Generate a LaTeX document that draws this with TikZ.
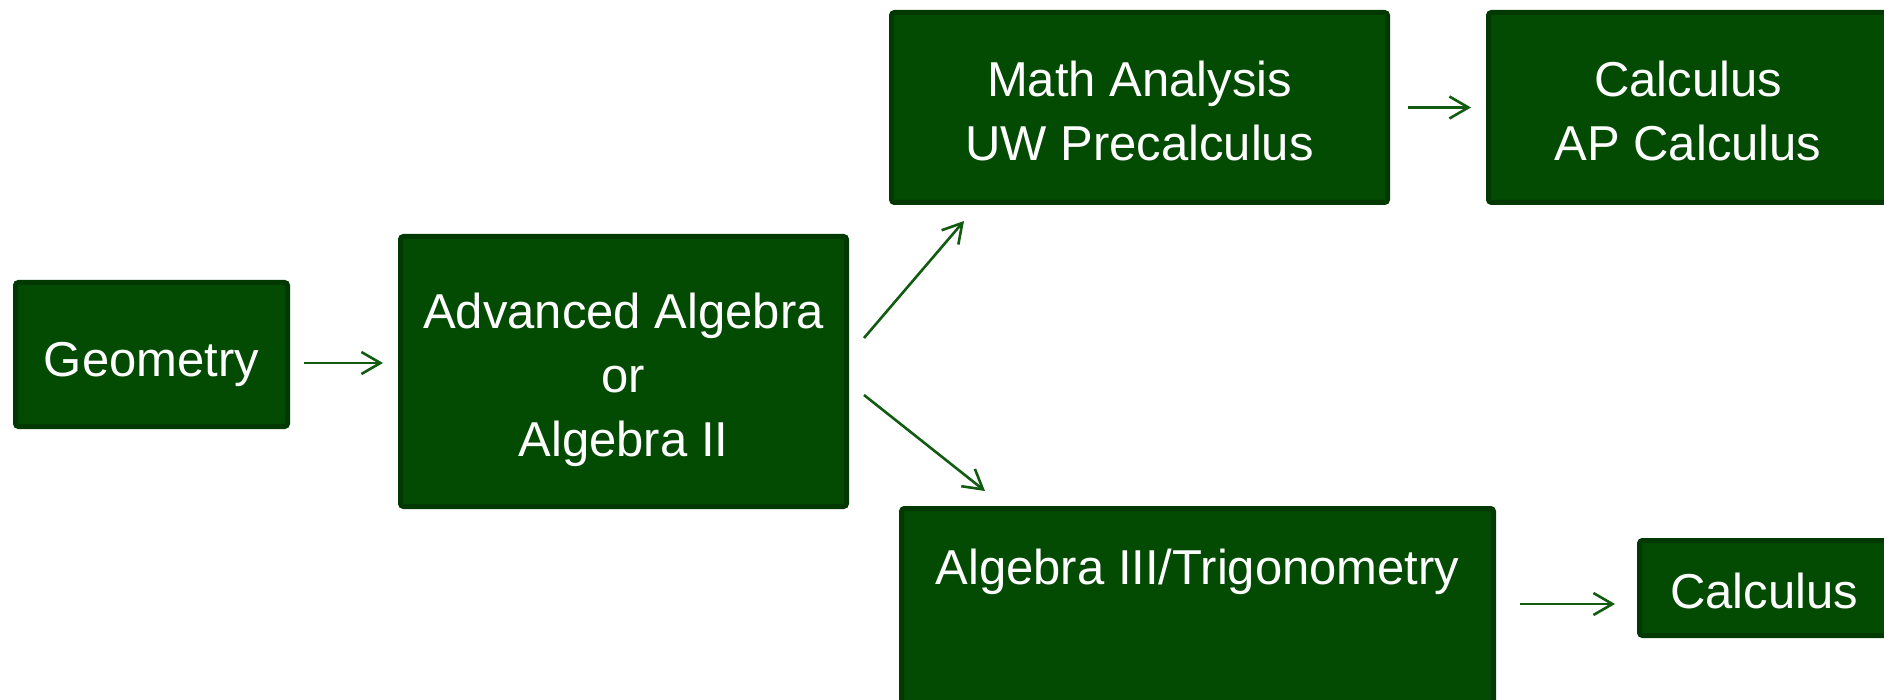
\documentclass[tikz,border=0pt]{standalone}
\usepackage{fontspec}
\setmainfont{Liberation Sans}
\usetikzlibrary{arrows.meta}
\definecolor{boxfill}{RGB}{3,74,3}
\definecolor{boxline}{RGB}{2,56,2}
\definecolor{arrowgreen}{RGB}{18,92,18}
\newcommand\dnby[2]{\raisebox{-#1}[\height][\depth]{\begin{tabular}{@{}c@{}}#2\end{tabular}}}
\tikzset{
  box/.style={draw=boxline, fill=boxfill, line width=2.5pt, rounded corners=1.5pt,
    text=white, align=center, inner sep=0pt,
    font=\fontsize{24.5}{32}\selectfont},
  txt/.style={text=white, align=center, inner sep=0pt,
    font=\fontsize{24.5}{32}\selectfont},
  arr/.style={draw=arrowgreen, line width=1.3pt,
    -{Straight Barb[length=9.5pt,width=11pt]}}
}
\begin{document}
\begin{tikzpicture}[x=0.5pt,y=-0.5pt]
\useasboundingbox (0,0) rectangle (1884,700);
\fill[white] (0,0) rectangle (1884,700);
\node[box, minimum width=136pt, minimum height=72pt] (geo) at (151.5,354.5) {\dnby{4.5pt}{Geometry}};
\node[box, minimum width=223pt, minimum height=135pt] (adv) at (623.5,371.5) {\dnby{4pt}{Advanced Algebra\\or\\Algebra II}};
\node[box, minimum width=248pt, minimum height=95pt] (mathan) at (1139.5,107.5) {\dnby{4pt}{Math Analysis\\UW Precalculus}};
\node[box, minimum width=199.5pt, minimum height=95pt] (calcap) at (1688,107.5) {\dnby{4pt}{Calculus\\AP Calculus}};
\node[box, minimum width=296pt, minimum height=97.5pt] (alg3) at (1197.5,606) {};
\node[txt] (alg3text) at (1197.5,572) {Algebra III/Trigonometry};
\node[box, minimum width=124.5pt, minimum height=47.5pt] (calc) at (1764,588) {\dnby{4pt}{Calculus}};
\draw[arr] ([xshift=7pt,yshift=-4.25pt]geo.east) -- ([xshift=-7.5pt,yshift=4.25pt]adv.west);
\draw[arr] ([xshift=7.5pt,yshift=16.75pt]adv.east) -- ([xshift=-87.75pt,yshift=-8pt]mathan.south);
\draw[arr] ([xshift=7.5pt,yshift=-11.75pt]adv.east) -- ([xshift=-106.25pt,yshift=7.5pt]alg3.north);
\draw[arr] ([xshift=9pt]mathan.east) -- ([xshift=-7.5pt]calcap.west);
\draw[arr] ([xshift=12pt,yshift=1pt]alg3.east) -- ([xshift=-11pt,yshift=-8pt]calc.west);
\end{tikzpicture}
\end{document}
